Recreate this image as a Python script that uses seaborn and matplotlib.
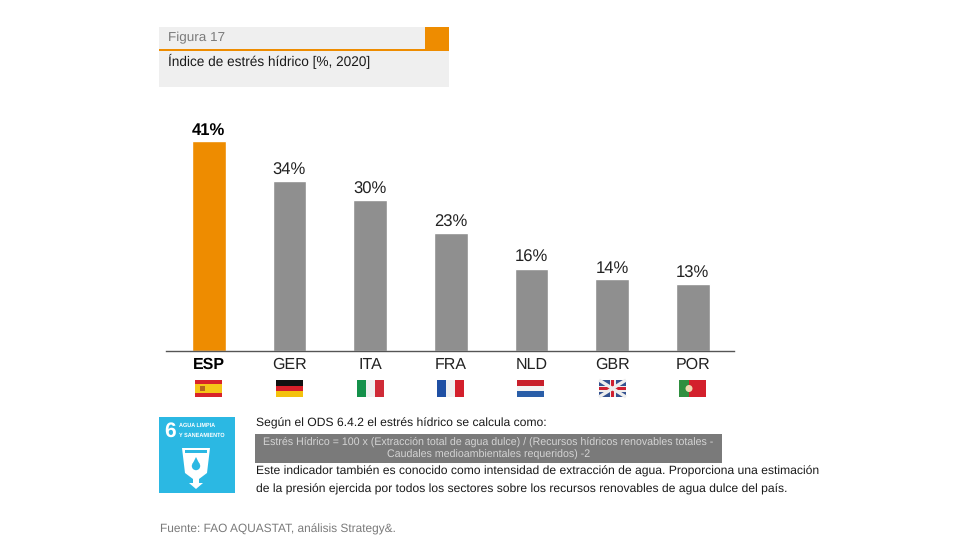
import matplotlib
matplotlib.use("Agg")
import matplotlib.pyplot as plt
import matplotlib.patches as mp
import seaborn as sns
import pandas as pd

# Datos
paises = ["ESP", "GER", "ITA", "FRA", "NLD", "GBR", "POR"]
valores = [41, 33.2, 29.4, 23.1, 16.1, 14.1, 13.1]
etiquetas = ["41%", "34%", "30%", "23%", "16%", "14%", "13%"]
colores = ["#ee8c00", "#8f8f8f", "#8f8f8f", "#8f8f8f", "#8f8f8f", "#8f8f8f", "#8f8f8f"]

sns.set_theme(style="white")
plt.rcParams["font.family"] = ["Liberation Sans", "DejaVu Sans"]
plt.rcParams["text.hinting"] = "no_hinting"

W, H = 980, 560
fig = plt.figure(figsize=(W / 100, H / 100), dpi=100, facecolor="white")

# --- Barras ---
ax = fig.add_axes([166 / W, 1 - 351 / H, (734 - 166) / W, 245 / H])
df = pd.DataFrame({"pais": paises, "valor": valores})
sns.barplot(data=df, x="pais", y="valor", hue="pais", palette=colores, legend=False,
            width=0.415, saturation=1, ax=ax)
ax.set_xlim(-0.53, 6.51)
ax.set_ylim(0, 245 / 5.12)
ax.set_xlabel("")
ax.set_ylabel("")
ax.set_yticks([])
ax.patch.set_alpha(0)
sns.despine(ax=ax, left=True)
ax.spines["bottom"].set_color("#555555")
ax.spines["bottom"].set_linewidth(1)
ax.tick_params(axis="x", length=0, pad=4.5, labelsize=11.5, labelcolor="#222222")
ax.get_xticklabels()[0].set_fontweight("bold")
ax.get_xticklabels()[0].set_color("black")

for i, cont in enumerate(ax.containers):
    ax.bar_label(cont, labels=[etiquetas[i]], padding=2, fontsize=12,
                 color="black" if i == 0 else "#222222",
                 fontweight="bold" if i == 0 else "normal")

# --- Capa de adornos en pixeles ---
ov = fig.add_axes([0, 0, 1, 1], zorder=-1)
ov.set_xlim(0, W)
ov.set_ylim(H, 0)
ov.axis("off")
top = fig.add_axes([0, 0, 1, 1], zorder=5)
top.set_xlim(0, W)
top.set_ylim(H, 0)
top.axis("off")
top.patch.set_alpha(0)


def rect(x0, y0, x1, y1, c, a=top, **kw):
    a.add_patch(mp.Rectangle((x0, y0), x1 - x0, y1 - y0, fc=c, ec="none", **kw))


# Cabecera
rect(159, 27, 449, 87, "#efefef", ov)
rect(425, 27, 449, 49, "#ee8c00", ov)
rect(159, 48.5, 449, 50.5, "#ee8c00", ov)
top.text(168, 37.5, "Figura 17", fontsize=9.7, color="#7a7a7a", va="center")
top.text(168, 61.5, "Índice de estrés hídrico [%, 2020]", fontsize=9.85, color="#1a1a1a", va="center")

# Banderas
fy0, fy1 = 380, 397
fx = [195, 276, 357, 437, 517, 599, 679]
fw = 27
h3 = (fy1 - fy0) / 3
for nombre, x in zip(paises, fx):
    if nombre == "ESP":
        rect(x, fy0, x + fw, fy1, "#d8232a")
        rect(x, fy0 + 4, x + fw, fy1 - 4, "#f5c518")
        rect(x + 5, fy0 + 6, x + 10, fy1 - 6, "#b5651d")
    elif nombre == "GER":
        for k, c in enumerate(["#111111", "#d8202a", "#f4c20d"]):
            rect(x, fy0 + k * h3, x + fw, fy0 + (k + 1) * h3, c)
    elif nombre == "ITA":
        for k, c in enumerate(["#14904a", "#f0f0f0", "#cf2b37"]):
            rect(x + k * fw / 3, fy0, x + (k + 1) * fw / 3, fy1, c)
    elif nombre == "FRA":
        for k, c in enumerate(["#1f4fa3", "#f0f0f0", "#d3202c"]):
            rect(x + k * fw / 3, fy0, x + (k + 1) * fw / 3, fy1, c)
    elif nombre == "NLD":
        for k, c in enumerate(["#c8202c", "#f2f2f2", "#2a5ea8"]):
            rect(x, fy0 + k * h3, x + fw, fy0 + (k + 1) * h3, c)
    elif nombre == "GBR":
        rect(x, fy0, x + fw, fy1, "#33518f")
        top.plot([x, x + fw], [fy0, fy1], color="#eeeeee", lw=2.4, solid_capstyle="butt")
        top.plot([x, x + fw], [fy1, fy0], color="#eeeeee", lw=2.4, solid_capstyle="butt")
        rect(x + fw / 2 - 3, fy0, x + fw / 2 + 3, fy1, "#eeeeee")
        rect(x, (fy0 + fy1) / 2 - 3, x + fw, (fy0 + fy1) / 2 + 3, "#eeeeee")
        rect(x + fw / 2 - 1.6, fy0, x + fw / 2 + 1.6, fy1, "#cf2030")
        rect(x, (fy0 + fy1) / 2 - 1.6, x + fw, (fy0 + fy1) / 2 + 1.6, "#cf2030")
    elif nombre == "POR":
        rect(x, fy0, x + 10, fy1, "#2f8f3f")
        rect(x + 10, fy0, x + fw, fy1, "#d3202c")
        top.add_patch(mp.Circle((x + 10, (fy0 + fy1) / 2), 3.5, fc="#f0d9b0", ec="none"))

# Icono ODS 6
rect(159, 417, 235, 493, "#2bb8e3")
top.text(164, 431, "6", fontsize=15, fontweight="bold", color="white", va="center")
top.text(179, 425.5, "AGUA LIMPIA", fontsize=4, fontweight="bold", color="white", va="center")
top.text(179, 435.5, "Y SANEAMIENTO", fontsize=4, fontweight="bold", color="white", va="center")
top.add_patch(mp.Polygon([(182, 448), (210, 448), (207, 473), (199, 479), (199, 483), (203, 483),
                          (196, 489), (189, 483), (193, 483), (193, 479), (185, 473)],
                         closed=True, fc="white", ec="none"))
rect(185, 449.5, 207, 453, "#2bb8e3")
top.add_patch(mp.Circle((196, 466), 4.2, fc="#2bb8e3", ec="none"))
top.add_patch(mp.Polygon([(196, 457), (192.5, 464), (199.5, 464)], closed=True, fc="#2bb8e3", ec="none"))

# Bloque de texto
top.text(256, 423, "Según el ODS 6.4.2 el estrés hídrico se calcula como:", fontsize=8.7,
         color="#1a1a1a", va="center")
rect(255, 434, 722, 463, "#7a7a7a")
top.text(488.5, 442, "Estrés Hídrico = 100 x (Extracción total de agua dulce) / (Recursos hídricos renovables totales -",
         fontsize=7.65, color="#d4d4d4", ha="center", va="center")
top.text(488.5, 455, "Caudales medioambientales requeridos) -2", fontsize=7.65, color="#d4d4d4",
         ha="center", va="center")
top.text(256, 471, "Este indicador también es conocido como intensidad de extracción de agua. Proporciona una estimación",
         fontsize=8.75, color="#1a1a1a", va="center")
top.text(256, 489, "de la presión ejercida por todos los sectores sobre los recursos renovables de agua dulce del país.",
         fontsize=8.75, color="#1a1a1a", va="center")
top.text(160, 529, "Fuente: FAO AQUASTAT, análisis Strategy&.", fontsize=8.55, color="#7a7a7a", va="center")

fig.savefig("out.png", dpi=100, facecolor="white")
